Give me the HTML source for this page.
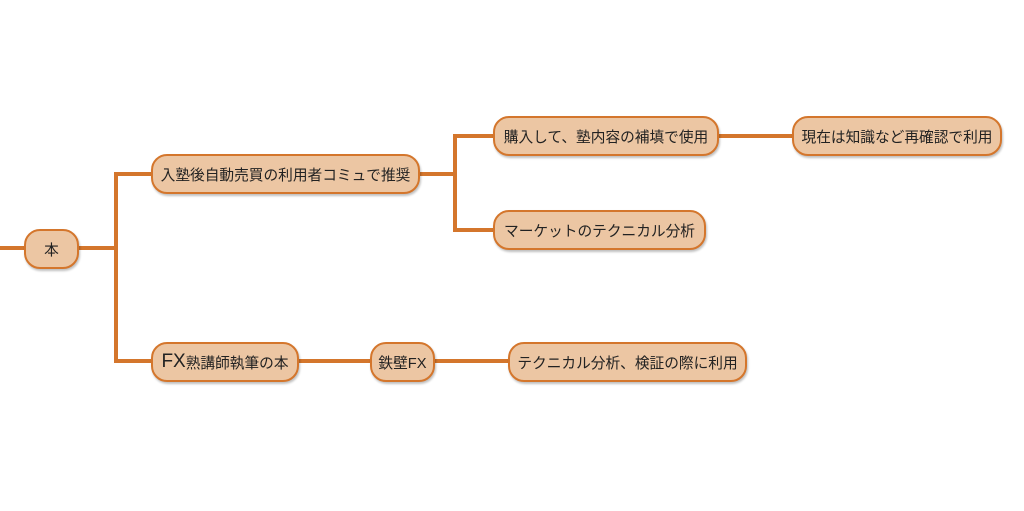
<!DOCTYPE html>
<html><head><meta charset="utf-8"><style>
html,body{margin:0;padding:0;background:#fff;width:1024px;height:511px;overflow:hidden;position:relative}
.n{position:absolute;box-sizing:border-box;height:40px;border:2.5px solid #d4762c;background:#ecc6a3;border-radius:16px;
font-family:"Liberation Sans","Noto Sans CJK JP",sans-serif;font-size:14.7px;color:#222;display:flex;align-items:center;justify-content:center;white-space:nowrap;box-shadow:1px 2px 2px rgba(0,0,0,0.25)}
svg{position:absolute;left:0;top:0}
</style></head><body>
<svg width="1024" height="511">
<g stroke="#d4762c" stroke-width="4" fill="none">
<line x1="0" y1="248" x2="30" y2="248"/>
<line x1="75" y1="248" x2="116" y2="248"/>
<polyline points="155,174 116,174 116,361 155,361"/>
<line x1="415" y1="174" x2="455" y2="174"/>
<polyline points="497,136 455,136 455,230 497,230"/>
<line x1="714" y1="136" x2="796" y2="136"/>
<line x1="294" y1="361" x2="374" y2="361"/>
<line x1="431" y1="361" x2="512" y2="361"/>
</g></svg>
<div class="n" style="left:24px;top:229px;width:55px">本</div>
<div class="n" style="left:151px;top:154px;width:269px">入塾後自動売買の利用者コミュで推奨</div>
<div class="n" style="left:151px;top:342px;width:148px"><span style="font-size:19px">FX</span>熟講師執筆の本</div>
<div class="n" style="left:370px;top:342px;width:65px">鉄壁FX</div>
<div class="n" style="left:508px;top:342px;width:239px">テクニカル分析、検証の際に利用</div>
<div class="n" style="left:493px;top:116px;width:226px">購入して、塾内容の補填で使用</div>
<div class="n" style="left:493px;top:210px;width:213px">マーケットのテクニカル分析</div>
<div class="n" style="left:792px;top:116px;width:210px">現在は知識など再確認で利用</div>
</body></html>
